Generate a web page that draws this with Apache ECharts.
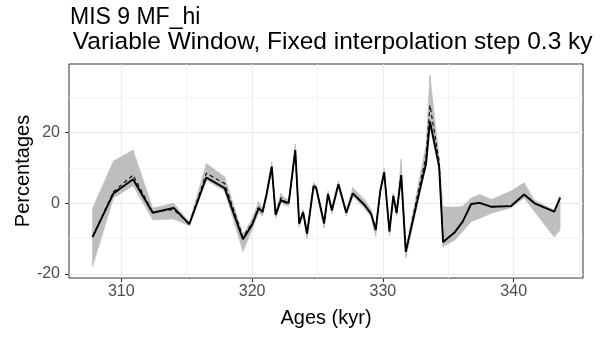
<!DOCTYPE html>
<html>
<head>
<meta charset="utf-8">
<script src="https://cdn.jsdelivr.net/npm/echarts@6/dist/echarts.min.js"></script>
<style>
  html, body { margin: 0; padding: 0; background: #ffffff; }
  #chart { width: 601px; height: 337px; }
</style>
</head>
<body>
<div id="chart"></div>
<script>
// Ages (kyr) of each sample
const ages = [307.8, 309.4, 310.9, 312.4, 314.0, 315.2, 316.5, 317.9, 319.3, 320.0,
  320.5, 320.8, 321.1, 321.5, 321.8, 322.2, 322.5, 322.8, 323.3, 323.6,
  323.9, 324.2, 324.7, 324.9, 325.5, 325.8, 326.1, 326.6, 327.2, 327.7,
  328.6, 329.1, 329.45, 329.8, 330.1, 330.5, 330.8, 331.05, 331.4, 331.75,
  332.9, 333.3, 333.6, 334.3, 334.6, 335.5, 336.1, 336.75, 337.4, 338.3,
  339.8, 340.8, 341.6, 343.1, 343.55];

// Main estimate (solid line), percentages
const pctMain = [-9.6, 2.8, 6.8, -2.7, -1.3, -5.9, 7.3, 4.3, -10.2, -6.1,
  -1.4, -2.4, 2.4, 10.4, -3.3, 0.9, 0.3, 0.1, 15.1, -5.8,
  -2.5, -8.7, 4.9, 4.4, -5.7, 2.6, -2.0, 5.4, -2.7, 2.8,
  -0.5, -3.0, -7.6, 3.5, 8.8, -8.0, 2.1, -2.8, 8.0, -13.8,
  5.0, 11.3, 23.2, 10.4, -11.0, -8.2, -5.2, -0.2, 0.1, -1.0,
  -0.8, 2.5, 0.0, -2.4, 1.6];

// Alternative estimate (dashed line)
const pctAlt = [-9.4, 3.3, 8.0, -2.5, -1.8, -5.9, 8.5, 5.6, -9.6, -5.6,
  -1.2, -2.6, 2.4, 10.4, -3.3, 1.6, 0.6, 0.1, 15.1, -5.8,
  -2.5, -8.7, 4.9, 4.4, -5.7, 2.6, -2.0, 5.4, -2.7, 2.8,
  -0.5, -3.0, -7.6, 3.5, 8.8, -8.0, 2.1, -2.8, 8.0, -13.8,
  6.8, 13.2, 27.8, 12.0, -11.0, -8.2, -5.2, -0.2, 0.1, -1.0,
  -0.8, 2.5, 0.0, -2.4, 1.6];

// Envelope of the estimates (grey band)
const bandLow = [-18.0, 1.5, 5.0, -4.7, -4.5, -6.4, 6.5, 3.5, -13.7, -7.5,
  -2.6, -3.6, 1.6, 9.5, -4.2, 0.2, -0.5, -0.8, 14.2, -6.8,
  -3.5, -10.0, 4.0, 3.5, -7.0, 1.8, -3.0, 4.6, -3.6, 2.0,
  -1.5, -4.0, -9.2, 2.7, 8.0, -9.2, 1.3, -3.7, 7.2, -15.5,
  4.0, 10.3, 22.0, 9.5, -12.3, -10.4, -8.0, -5.2, -4.3, -2.8,
  -1.3, 1.5, -2.4, -9.6, -7.6];
const bandHigh = [-1.4, 12.0, 15.1, -1.4, 0.0, -5.4, 11.3, 7.5, -8.8, -4.5,
  0.5, -1.5, 3.2, 11.8, -2.5, 2.8, 1.4, 1.0, 16.8, -5.0,
  -1.8, -8.0, 5.8, 5.2, -4.8, 3.4, -1.2, 6.4, -1.8, 4.5,
  1.0, -1.8, -6.8, 4.3, 9.8, -7.0, 2.9, -2.0, 12.5, -12.8,
  9.0, 16.5, 36.3, 12.8, -1.0, -1.1, -0.9, 1.5, 2.5, 1.1,
  3.5, 5.8, 0.8, -1.9, 1.9];

// Axis ticks
const xMajorTicks = [310, 320, 330, 340];
const xMinorTicks = [315, 325, 335, 345];
const yMajorTicks = [-20, 0, 20];
const yMinorTicks = [-10, 10, 30];

const FONT = '"Liberation Sans", Arial, sans-serif';
const BAND_COLOR = '#bebebe';
const zip = (a, b) => a.map((v, i) => [v, b[i]]);

// one band segment per pair of neighbouring samples: [age0, low0, high0, age1, low1, high1]
const bandSegments = ages.slice(0, -1).map((a, i) =>
  [a, bandLow[i], bandHigh[i], ages[i + 1], bandLow[i + 1], bandHigh[i + 1]]);

const gridLine = { show: true, lineStyle: { color: '#ebebeb', width: 1.1 } };
const minorGridLine = { show: true, lineStyle: { color: '#f0f0f0', width: 0.8 } };
const hiddenLine = { show: false, onZero: false };

const chart = echarts.init(document.getElementById('chart'), null, { renderer: 'canvas' });

chart.setOption({
  animation: false,
  backgroundColor: '#ffffff',
  title: {
    text: '{a|MIS 9 MF_hi}\n{b| Variable Window, Fixed interpolation step 0.3 ky}',
    left: 61,
    top: 1,
    textStyle: {
      fontFamily: FONT, fontWeight: 'normal', color: '#000000',
      rich: {
        a: { fontFamily: FONT, fontSize: 23, color: '#000000', lineHeight: 24, padding: [0, 0, 0, 4] },
        b: { fontFamily: FONT, fontSize: 24.5, color: '#000000', lineHeight: 25 }
      }
    }
  },
  grid: {
    left: 69, right: 18, top: 64, bottom: 59,
    show: true, borderColor: '#333333', borderWidth: 1, backgroundColor: 'transparent'
  },
  xAxis: [
    {
      type: 'value', min: 306.0, max: 345.3, position: 'bottom',
      name: 'Ages (kyr)', nameLocation: 'middle', nameGap: 30,
      nameTextStyle: { fontFamily: FONT, fontSize: 20, color: '#000000' },
      axisLine: hiddenLine,
      axisTick: { show: true, length: 4, customValues: xMajorTicks, lineStyle: { color: '#333333' } },
      axisLabel: { show: true, customValues: xMajorTicks, margin: 6, fontFamily: FONT, fontSize: 16, color: '#4d4d4d' },
      splitLine: gridLine
    },
    {
      type: 'value', min: 306.0, max: 345.3, position: 'bottom',
      axisLine: hiddenLine,
      axisTick: { show: false, customValues: xMinorTicks },
      axisLabel: { show: false, customValues: xMinorTicks },
      splitLine: minorGridLine
    }
  ],
  yAxis: [
    {
      type: 'value', min: -21.2, max: 39.5, position: 'left',
      name: 'Percentages', nameLocation: 'middle', nameGap: 36, nameMoveOverlap: false,
      nameTextStyle: { fontFamily: FONT, fontSize: 20, color: '#000000' },
      axisLine: hiddenLine,
      axisTick: { show: true, length: 4, customValues: yMajorTicks, lineStyle: { color: '#333333' } },
      axisLabel: { show: true, customValues: yMajorTicks, margin: 9, fontFamily: FONT, fontSize: 16, color: '#4d4d4d' },
      splitLine: gridLine
    },
    {
      type: 'value', min: -21.2, max: 39.5, position: 'left',
      axisLine: hiddenLine,
      axisTick: { show: false, customValues: yMinorTicks },
      axisLabel: { show: false, customValues: yMinorTicks },
      splitLine: minorGridLine
    }
  ],
  series: [
    {
      name: 'band', type: 'custom', xAxisIndex: 0, yAxisIndex: 0,
      data: bandSegments, silent: true, z: 1,
      encode: { x: [0, 3], y: [1, 2, 4, 5] },
      renderItem: function (params, api) {
        const p0lo = api.coord([api.value(0), api.value(1)]);
        const p0hi = api.coord([api.value(0), api.value(2)]);
        const p1lo = api.coord([api.value(3), api.value(4)]);
        const p1hi = api.coord([api.value(3), api.value(5)]);
        return {
          type: 'polygon',
          shape: { points: [p0lo, p1lo, p1hi, p0hi] },
          style: { fill: BAND_COLOR, stroke: BAND_COLOR, lineWidth: 0.6 }
        };
      }
    },
    {
      name: 'alt', type: 'line', xAxisIndex: 0, yAxisIndex: 0,
      data: zip(ages, pctAlt), symbol: 'none',
      lineStyle: { color: '#000000', width: 1.1, type: [4, 3] }, z: 2
    },
    {
      name: 'main', type: 'line', xAxisIndex: 0, yAxisIndex: 0,
      data: zip(ages, pctMain), symbol: 'none',
      lineStyle: { color: '#000000', width: 1.9 }, z: 3
    }
  ]
});
</script>
</body>
</html>
